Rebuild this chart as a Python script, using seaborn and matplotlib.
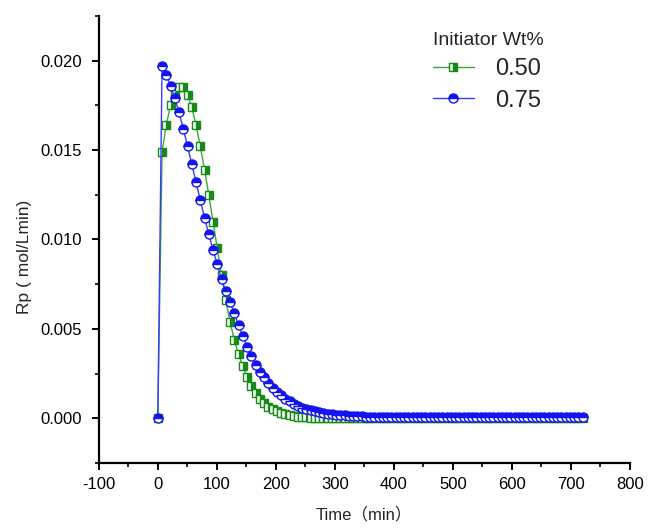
import numpy as np
import pandas as pd
import matplotlib
matplotlib.use("Agg")
import matplotlib.pyplot as plt
import seaborn as sns
from matplotlib.ticker import MultipleLocator

# ---- data ----
time_min = np.linspace(0, 720, 101)
rp_050 = [0, 0.0149, 0.0164, 0.0175, 0.0182, 0.0185, 0.0185, 0.0181, 0.0174, 0.0164,
          0.0152, 0.0139, 0.0125, 0.0110, 0.0095, 0.0080, 0.0066, 0.0054, 0.0044, 0.0036,
          0.0029, 0.0023, 0.0018, 0.0014, 0.0011, 0.00085, 0.00065, 0.0005, 0.0004, 0.0003,
          0.00023, 0.00017, 0.00013, 0.0001, 0.00007, 0.00005, 0.00004, 0.00003, 0.00002, 0.00001] + [0.0] * 61
rp_075 = [0, 0.0197, 0.0192, 0.0186, 0.0179, 0.0171, 0.0162, 0.0152, 0.0142, 0.0132,
          0.0122, 0.0112, 0.0103, 0.0094, 0.0086, 0.0078, 0.0071, 0.0065, 0.0059, 0.0052,
          0.0046, 0.0040, 0.0035, 0.0030, 0.0026, 0.0023, 0.0020, 0.0017, 0.0015, 0.0013,
          0.0011, 0.00095, 0.0008, 0.0007, 0.0006, 0.0005, 0.00045, 0.0004, 0.00035, 0.0003,
          0.00027, 0.00024, 0.00021, 0.00019, 0.00017, 0.00015, 0.00013, 0.00012, 0.00011, 0.0001,
          0.00009, 0.00009, 0.00008, 0.00008, 0.00008, 0.00007, 0.00007, 0.00007, 0.00007, 0.00006] + [0.00006] * 41
series_labels = ["0.50", "0.75"]
legend_title = "Initiator Wt%"
x_label = "Time（min）"
y_label = "Rp ( mol/Lmin)"

df = pd.concat([
    pd.DataFrame({"t": time_min, "rp": rp_050, "wt": series_labels[0]}),
    pd.DataFrame({"t": time_min, "rp": rp_075, "wt": series_labels[1]}),
])

sns.set_theme(style="ticks")
plt.rcParams["font.family"] = ["Liberation Sans", "Noto Sans CJK SC", "DejaVu Sans"]
plt.rcParams["axes.unicode_minus"] = False

fig = plt.figure(figsize=(6.5, 5.28), dpi=100)
ax = fig.add_axes([0.152, 0.123, 0.817, 0.847])

line_cols = {"0.50": "#3aa83a", "0.75": "#3b3bff"}
sns.lineplot(data=df, x="t", y="rp", hue="wt", style="wt",
             markers={"0.50": "s", "0.75": "o"}, dashes=False,
             palette=line_cols, linewidth=1.0, ax=ax, legend=False)

edge = {"0.50": "#168a16", "0.75": "#1414f0"}
fills = {"0.50": "right", "0.75": "top"}
for ln, lab in zip(ax.lines[:2], series_labels):
    ln.set_markersize(5.8 if lab == "0.50" else 6.5)
    ln.set_markeredgecolor(edge[lab])
    ln.set_markerfacecolor(edge[lab])
    ln.set_fillstyle(fills[lab])
    ln.set_markerfacecoloralt("white")
    ln.set_markeredgewidth(1.0)
    ln.set_label(lab)

ax.set_xlim(-100, 800)
ax.set_ylim(-0.0025, 0.0225)
ax.xaxis.set_major_locator(MultipleLocator(100))
ax.xaxis.set_minor_locator(MultipleLocator(50))
ax.yaxis.set_major_locator(MultipleLocator(0.005))
ax.yaxis.set_minor_locator(MultipleLocator(0.0025))
ax.yaxis.set_major_formatter(matplotlib.ticker.FormatStrFormatter("%.3f"))
ax.set_yticks([0, 0.005, 0.010, 0.015, 0.020])

for s in ["top", "right"]:
    ax.spines[s].set_visible(False)
for s in ["left", "bottom"]:
    ax.spines[s].set_linewidth(1.6)
    ax.spines[s].set_color("black")
ax.tick_params(axis="both", which="major", length=5, width=1.4, labelsize=12,
               direction="out", colors="black", pad=5)
ax.tick_params(axis="y", which="major", pad=7)
ax.tick_params(axis="both", which="minor", length=3, width=1.2, direction="out", colors="black")

ax.set_xlabel(x_label, fontsize=12, va="top")
ax.xaxis.set_label_coords(0.5, -0.097)
ax.set_ylabel(y_label, fontsize=12.5)
ax.yaxis.set_label_coords(-0.125, 0.46)

leg = ax.legend(handles=ax.lines[:2], labels=series_labels, title=legend_title,
                loc="upper left", bbox_to_anchor=(0.59, 1.012), frameon=False,
                fontsize=17, title_fontsize=14, alignment="left",
                handlelength=1.7, labelspacing=0.4, handletextpad=0.9)

fig.savefig("out.png", dpi=100)
